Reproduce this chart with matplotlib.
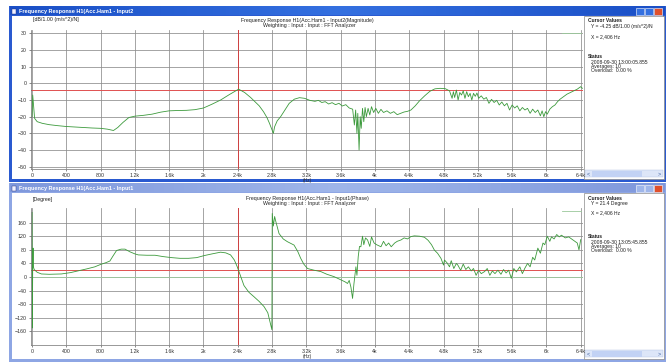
import numpy as np
import matplotlib
matplotlib.use("Agg")
import matplotlib.pyplot as plt
import matplotlib.patches as patches

plt.rcParams['font.family'] = ['Liberation Sans', 'DejaVu Sans']

# --- data ---
mag_freq = [0, 8, 16, 30, 60, 120, 200, 300, 400, 500, 600, 700, 800, 880, 950, 1000,
            1060, 1130, 1200, 1300, 1400, 1500, 1600, 1700, 1800, 1900, 2000, 2100, 2200,
            2300, 2410, 2480, 2550, 2600, 2650, 2700, 2740, 2770, 2800, 2815, 2830, 2860,
            2900, 2950, 3000, 3060, 3120, 3180, 3240, 3300, 3340, 3380, 3420, 3460, 3500,
            3540, 3580, 3620, 3660, 3700, 3740, 3760, 3775, 3790, 3800, 3815, 3828, 3840,
            3855, 3870, 3885, 3900, 3920, 3940, 3960, 3985, 4010, 4040, 4070, 4100, 4140,
            4180, 4220, 4260, 4300, 4340, 4380, 4420, 4470, 4520, 4580, 4640, 4700, 4760,
            4820, 4870, 4900, 4915, 4930, 4950, 4970, 4990, 5010, 5030, 5050, 5070, 5090,
            5110, 5130, 5150, 5170, 5190, 5210, 5240, 5270, 5300, 5330, 5360, 5390, 5420,
            5450, 5480, 5510, 5540, 5570, 5600, 5630, 5660, 5690, 5720, 5750, 5780, 5810,
            5840, 5870, 5900, 5930, 5950, 5970, 5990, 6010, 6040, 6070, 6100, 6130, 6160,
            6200, 6240, 6280, 6320, 6360, 6400, 6420]
mag_db = [-20, -7, -12, -21, -23, -24, -24.8, -25.4, -25.9, -26.2, -26.5, -26.8, -27, -27.5,
          -28.3, -26.5, -23.5, -20.5, -19.7, -19.2, -18.5, -17.3, -16.5, -16.3, -16.2, -15.8,
          -14.8, -12.5, -10, -6.8, -3.5, -5.5, -8.5, -11, -13.5, -17, -20.5, -24, -28, -30,
          -26, -22.5, -20, -16, -12, -9.5, -8.6, -9, -10.2, -10.8, -10.2, -11.5, -11, -12.4,
          -11.6, -12.8, -12, -13.6, -12.8, -14.8, -15.5, -25, -16, -30, -18, -40, -20, -27,
          -15, -23, -14.5, -20, -15, -19, -14, -17.5, -15, -18, -15.6, -17.5, -16.5, -18,
          -17, -18.8, -18, -17.2, -16.8, -16, -13.5, -10.5, -7.5, -4.8, -3.3, -3, -3.2, -4.5,
          -9, -5, -8.5, -4, -10, -5.5, -7, -4.5, -9, -5, -8, -6, -10, -6, -7.8, -5.8, -9,
          -7.5, -9.5, -8.5, -12, -9.6, -11.5, -10.2, -13, -11.2, -13.5, -12, -16, -13, -14.8,
          -13.5, -16.5, -14.5, -16, -15, -18, -15.5, -17.5, -16, -19.5, -16.5, -20, -17,
          -18.5, -15.5, -14, -13, -11, -9.5, -8, -6.5, -5.5, -4.5, -3.5, -2, -3]

ph_freq = [0, 4, 8, 12, 16, 25, 60, 109, 200, 343, 450, 538, 640, 733, 800, 860, 908, 940,
           986, 1040, 1084, 1143, 1200, 1240, 1340, 1435, 1530, 1630, 1725, 1825, 1920, 2008,
           2100, 2199, 2260, 2316, 2360, 2394, 2430, 2472, 2530, 2589, 2650, 2706, 2750, 2784,
           2798, 2802, 2815, 2830, 2842, 2881, 2930, 2978, 3056, 3100, 3134, 3170, 3213, 3290,
           3368, 3440, 3524, 3600, 3650, 3680, 3700, 3720, 3739, 3755, 3778, 3790, 3805, 3820,
           3836, 3855, 3870, 3890, 3914, 3940, 3960, 3990, 4020, 4070, 4100, 4130, 4160, 4190,
           4230, 4260, 4304, 4340, 4380, 4420, 4460, 4520, 4577, 4620, 4660, 4694, 4730, 4770,
           4800, 4811, 4840, 4870, 4890, 4920, 4950, 4967, 5000, 5030, 5060, 5090, 5123, 5150,
           5180, 5210, 5240, 5279, 5310, 5340, 5370, 5400, 5435, 5470, 5500, 5530, 5560, 5591,
           5620, 5650, 5690, 5720, 5747, 5780, 5810, 5840, 5864, 5900, 5930, 5960, 5981, 6010,
           6040, 6059, 6090, 6120, 6150, 6176, 6220, 6260, 6293, 6330, 6360, 6380, 6400]
ph_deg = [190, -150, 40, 85, 30, 22, 14, 9, 8, 9, 13, 18, 24, 30, 37, 42, 47, 60, 78, 82, 82,
          74, 68, 65, 64, 64, 60, 57, 55, 55, 57, 63, 68, 73, 71, 65, 50, 30, 5, -25, -45, -58,
          -72, -87, -105, -141, -155, 187, 150, 178, 165, 128, 112, 104, 94, 75, 55, 38, 25, 20,
          16, 8, 1, -8, -14, -19, -10, -30, -63, -20, 30, 5, 60, 90, 89, 120, 95, 115, 109, 90,
          118, 100, 95, 89, 105, 92, 100, 89, 100, 105, 109, 115, 112, 119, 121, 120, 117, 108,
          95, 79, 70, 55, 35, 50, 42, 30, 48, 25, 40, 35, 20, 38, 22, 30, 18, 25, 5, 20, 10, 16,
          25, 5, 18, 10, 20, 8, 22, 12, 20, -4, 25, 15, 30, 10, 25, 40, 30, 58, 50, 85, 70, 100,
          95, 120, 105, 118, 112, 125, 118, 123, 115, 118, 112, 105, 100, 80, 110]

x_ticks = [0, 400, 800, 1200, 1600, 2000, 2400, 2800, 3200, 3600, 4000, 4400, 4800, 5200,
           5600, 6000, 6400]
x_labels = ['0', '400', '800', '1.2k', '1.6k', '2k', '2.4k', '2.8k', '3.2k', '3.6k', '4k',
            '4.4k', '4.8k', '5.2k', '5.6k', '6k', '6.4k']
mag_ticks = [30, 20, 10, 0, -10, -20, -30, -40, -50]
ph_ticks = [160, 120, 80, 40, 0, -40, -80, -120, -160]

cursor_x = 2406
cursor_mag = -4.25
cursor_ph = 21.4

W, H = 669, 363
fig = plt.figure(figsize=(W / 100, H / 100), dpi=100)
fig.patch.set_facecolor('white')

bg = fig.add_axes([0, 0, 1, 1])
bg.axis('off')


def px_axes(x0, y0, x1, y1):
    return fig.add_axes([x0 / W, 1 - y1 / H, (x1 - x0) / W, (y1 - y0) / H])


def window(y0, y1, title, active):
    if active:
        c0, c1, edge = '#1a4fc6', '#3470e0', '#2a5ad0'
    else:
        c0, c1, edge = '#7f98dc', '#9fb6ea', '#8ea6e4'
    # frame
    bg.add_patch(patches.Rectangle((9, y0), 657, y1 - y0, facecolor=edge, edgecolor=edge, lw=0))
    bg.add_patch(patches.Rectangle((12, y0 + 10), 651, y1 - y0 - 13, facecolor='white',
                                   edgecolor='none'))
    # title bar gradient
    grad = np.linspace(0, 1, 200)[None, :]
    cmap = matplotlib.colors.LinearSegmentedColormap.from_list('tb', [c0, c1, c0])
    bg.imshow(grad, extent=(10, 665, y0 + 9.5, y0 + 1), aspect='auto', cmap=cmap, zorder=2)
    bg.add_patch(patches.Rectangle((12, y0 + 3), 4, 4.5, facecolor='#f0f0ff',
                                   edgecolor='#203080', lw=0.3, zorder=3))
    bg.text(19, y0 + 5.3, title, color='white', fontsize=4, fontweight='bold',
            va='center', ha='left', zorder=3)
    # buttons
    for bx, col in [(636, c1), (645, c1), (654, '#e0502c')]:
        bg.add_patch(patches.Rectangle((bx, y0 + 1.8), 8, 7, facecolor=col,
                                       edgecolor='white', lw=0.4, zorder=3))
    # right info panel + scrollbar
    bg.add_patch(patches.Rectangle((584, y0 + 10), 80, y1 - y0 - 13, facecolor='white',
                                   edgecolor='#8a8a8a', lw=0.5, zorder=2))
    bg.add_patch(patches.Rectangle((585, y1 - 12), 78, 7, facecolor='#dde6f8',
                                   edgecolor='#b0c0e0', lw=0.3, zorder=3))
    bg.add_patch(patches.Rectangle((592, y1 - 11.5), 50, 6, facecolor='#c2d2f4',
                                   edgecolor='none', zorder=3))
    bg.text(587, y1 - 8.5, '<', fontsize=4, color='#4060a0', va='center', zorder=4)
    bg.text(658, y1 - 8.5, '>', fontsize=4, color='#4060a0', va='center', zorder=4)


window(6, 182, 'Frequency Response H1(Acc.Ham1 - Input2', True)
window(183, 362, 'Frequency Response H1(Acc.Ham1 - Input1', False)

bg.set_xlim(0, W)
bg.set_ylim(H, 0)

# info text
info_top = [('Cursor Values', 21, 588, True), ('Y = -4.25 dB/1.00 (m/s^2)/N', 26.5, 591, False),
            ('X = 2,406 Hz', 37, 591, False), ('Status', 57, 588, True),
            ('2008-09-30 13:00:05.855', 62, 591, False), ('Averages: 10', 66.5, 591, False),
            ('Overload:  0.00 %', 71, 591, False)]
info_bot = [('Cursor Values', 199, 588, True), ('Y = 21.4 Degree', 204, 591, False),
            ('X = 2,406 Hz', 213, 591, False), ('Status', 237, 588, True),
            ('2008-09-30 13:05:45.855', 242, 591, False), ('Averages: 10', 246.5, 591, False),
            ('Overload:  0.00 %', 251, 591, False)]
for s, y, x, b in info_top + info_bot:
    bg.text(x, y, s, fontsize=3.6, color='#202020', va='center', ha='left',
            fontweight='bold' if b else 'normal', zorder=4)

# header texts
bg.text(33, 20, '[dB/1.00 (m/s^2)/N]', fontsize=3.8, color='#202020', va='center', zorder=4)
bg.text(307, 20.5, 'Frequency Response H1(Acc.Ham1 - Input2(Magnitude)', fontsize=3.8,
        color='#202020', ha='center', va='center', zorder=4)
bg.text(309, 26, 'Weighting : Input : Input : FFT Analyzer', fontsize=3.8, color='#202020',
        ha='center', va='center', zorder=4)
bg.text(33, 199, '[Degree]', fontsize=3.8, color='#202020', va='center', zorder=4)
bg.text(307, 198.5, 'Frequency Response H1(Acc.Ham1 - Input1(Phase)', fontsize=3.8,
        color='#202020', ha='center', va='center', zorder=4)
bg.text(309, 204, 'Weighting : Input : Input : FFT Analyzer', fontsize=3.8, color='#202020',
        ha='center', va='center', zorder=4)


def style(ax, yticks, ylim):
    ax.set_xlim(-12, 6427)
    ax.set_ylim(*ylim)
    ax.set_xticks(x_ticks)
    ax.set_xticklabels(x_labels)
    ax.set_yticks(yticks)
    ax.tick_params(labelsize=3.8, length=1.5, width=0.4, pad=1.5, colors='#303030')
    ax.grid(True, color='#8c8c8c', lw=0.55)
    ax.set_axisbelow(True)
    for sp in ax.spines.values():
        sp.set_color('#707070')
        sp.set_linewidth(0.5)
    ax.spines['top'].set_visible(False)
    ax.spines['right'].set_visible(False)
    ax.set_xlabel('(Hz)', fontsize=3.6, labelpad=0.2, color='#303030')
    ax.plot([6180, 6400], [ylim[1] - (ylim[1] - ylim[0]) * 0.02] * 2, color='#9ac89a', lw=0.6)


ax1 = px_axes(31, 30, 583, 169)
style(ax1, mag_ticks, (-51.4, 32))
ax1.axhline(cursor_mag, color='#e05050', lw=0.7)
ax1.axvline(cursor_x, color='#d04040', lw=0.7)
ax1.plot(mag_freq, mag_db, color='#3c9a3c', lw=0.6)

ax2 = px_axes(31, 208, 583, 345)
style(ax2, ph_ticks, (-200, 203))
ax2.axhline(0, color='#9cc89c', lw=0.6)
ax2.axhline(cursor_ph, color='#e05050', lw=0.7)
ax2.axvline(cursor_x, color='#d04040', lw=0.7)
ax2.plot(ph_freq, ph_deg, color='#3c9a3c', lw=0.6)

fig.savefig('out.png', dpi=100, facecolor='white')
